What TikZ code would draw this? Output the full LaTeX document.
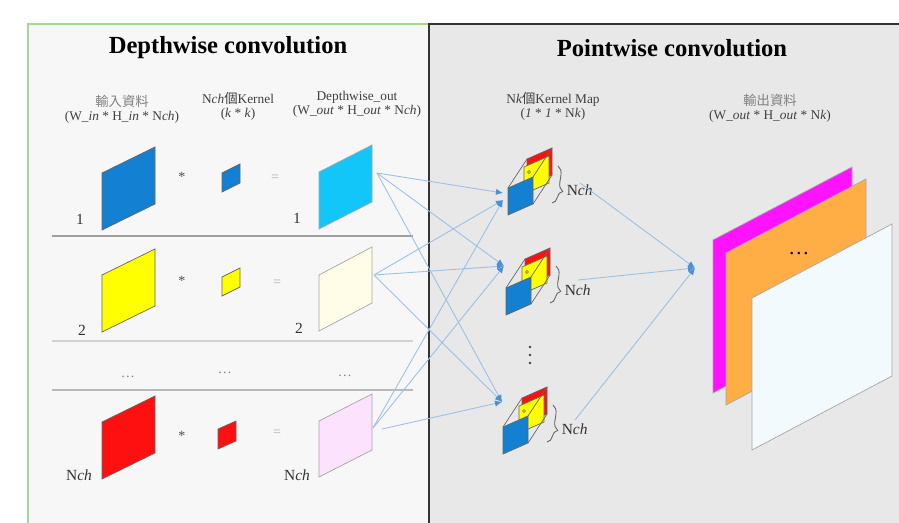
\documentclass[tikz,border=0pt]{standalone}
\usepackage{fontspec}
\setmainfont{Liberation Serif}
\newfontfamily\cjk{Noto Sans CJK TC}
\usetikzlibrary{arrows.meta}
\usetikzlibrary{decorations.pathreplacing}
\usetikzlibrary{positioning}

\definecolor{leftbg}{HTML}{F7F7F7}
\definecolor{rightbg}{HTML}{E8E8E8}
\definecolor{framegreen}{HTML}{A6D88E}
\definecolor{inblue}{HTML}{1380D2}
\definecolor{outcyan}{HTML}{12C6FA}
\definecolor{inyellow}{HTML}{FFFF00}
\definecolor{outyellow}{HTML}{FFFDE8}
\definecolor{inred}{HTML}{FF1010}
\definecolor{outpink}{HTML}{FCE2FC}
\definecolor{mapmagenta}{HTML}{FF12FF}
\definecolor{maporange}{HTML}{FFAD45}
\definecolor{mapwhite}{HTML}{F2FAFE}
\definecolor{linkblue}{HTML}{9CC0E6}
\definecolor{tipblue}{HTML}{4A90D6}

\tikzset{sheet/.style={draw=gray!80!black, line width=0.4pt},
  lightsheet/.style={draw=gray!70, line width=0.4pt},
  hdr/.style={align=center, font=\fontsize{7.6}{8}\selectfont, text=black!75, inner sep=0pt},
  ttl/.style={font=\fontsize{14}{16}\selectfont\bfseries},
  num/.style={font=\fontsize{8.8}{10}\selectfont, text=black!80, inner sep=0pt},
  op/.style={font=\fontsize{8}{9}\selectfont, text=gray, inner sep=0pt},
  link/.style={draw=linkblue, line width=0.5pt, -{Latex[length=4pt,width=3.6pt,color=tipblue]}},
  rowline/.style={line width=0.6pt}}

% parallelogram: style, bottom-left, width, height, rise
\newcommand{\drawsheet}[5]{\draw[#1] (#2) -- ++(0,-#4) -- ++(#3,-#5) -- ++(0,#4) -- cycle;}

% one 1x1 kernel map: name, corner of the front sheet
\newcommand{\kmap}[2]{%
  \begin{scope}[shift={(#2)}]
    \drawsheet{sheet,fill=inred}{19,-29}{25}{27}{11}
    \drawsheet{sheet,fill=inyellow}{16,-21}{25}{27}{11}
    \draw[gray!80!black, line width=0.4pt] (0,-27) -- (19,-56) (25,-38) -- (44,-67) (25,-11) -- (44,-40);
    \draw[gray!80!black, line width=0.3pt] (21,-43) circle (1.6);
    \drawsheet{sheet,fill=inblue}{0,0}{25}{27}{11}
    \draw[gray!80!black, line width=0.5pt, decorate, decoration={brace, amplitude=5pt, aspect=0.65}]
      (50,-49) -- (44,-12) coordinate[pos=0.65] (#1tip);
    \node[num, right=7pt of #1tip] (#1lbl) {N\textit{ch}};
  \end{scope}}

\begin{document}
\begin{tikzpicture}[x=0.02cm, y=-0.02cm]
  \useasboundingbox (0,0) rectangle (899,523);

  % panels
  \fill[leftbg] (28,24) rectangle (429,523);
  \draw[framegreen, line width=0.8pt] (28,523) -- (28,24) -- (429,24);
  \fill[rightbg] (429,24) rectangle (899,523);
  \draw[black!80, line width=1pt] (429,523) -- (429,24) -- (899,24);

  \node[ttl] (dwtitle) at (228,48) {Depthwise convolution};
  \node[ttl] (pwtitle) at (672,48) {Pointwise convolution};

  \node[hdr] (inhdr) at (122,109) {{\cjk\color{gray}輸入資料}\\(W\_\textit{in} * H\_\textit{in} * N\textit{ch})};
  \node[hdr] (khdr) at (238,106) {N\textit{ch}{\cjk 個}Kernel\\(\textit{k} * \textit{k})};
  \node[hdr] (dwhdr) at (357,104) {Depthwise\_out\\(W\_\textit{out} * H\_\textit{out} * N\textit{ch})};
  \node[hdr] (maphdr) at (553,106) {N\textit{k}{\cjk 個}Kernel Map\\(\textit{1} * \textit{1} * N\textit{k})};
  \node[hdr] (outhdr) at (770,108) {{\cjk\color{gray}輸出資料}\\(W\_\textit{out} * H\_\textit{out} * N\textit{k})};

  % row 1
  \drawsheet{sheet,fill=inblue}{102,230}{53}{57}{26}
  \node[op, text=black!70] (mul1) at (182,177) {*};
  \drawsheet{sheet,fill=inblue}{222,192}{18}{19}{9}
  \node[op, text=gray!60] (eq1) at (275,178) {=};
  \drawsheet{lightsheet,fill=outcyan}{319,229}{53}{57}{27}
  \node[num] (in1lbl) at (80,219) {1};
  \node[num] (out1lbl) at (297,218) {1};
  \draw[rowline, gray!75] (52,236) -- (413,236);

  % row 2
  \drawsheet{sheet,fill=inyellow}{102,332}{53}{57}{26}
  \node[op, text=black!70] (mul2) at (182,281) {*};
  \drawsheet{sheet,fill=inyellow}{222,296}{18}{19}{9}
  \node[op, text=gray!60] (eq2) at (277,283) {=};
  \drawsheet{lightsheet,fill=outyellow}{319,331}{53}{56}{28}
  \node[num] (in2lbl) at (82,330) {2};
  \node[num] (out2lbl) at (299,328) {2};
  \draw[rowline, gray!35] (52,341) -- (413,341);

  % skipped rows
  \node[op] (skip1) at (128,377) {\dots};
  \node[op] (skip2) at (225,373) {\dots};
  \node[op] (skip3) at (345,376) {\dots};
  \draw[rowline, gray!55] (52,390) -- (413,390);

  % row Nch
  \drawsheet{sheet,fill=inred}{102,479}{53}{57}{26}
  \node[op, text=black!70] (mul3) at (182,436) {*};
  \drawsheet{sheet,fill=inred}{218,449}{18}{20}{8}
  \node[op, text=gray!60] (eq3) at (277,433) {=};
  \drawsheet{lightsheet,fill=outpink}{319,477}{53}{56}{27}
  \node[num] (in3lbl) at (79,475) {N\textit{ch}};
  \node[num] (out3lbl) at (297,475) {N\textit{ch}};

  % kernel maps
  \kmap{ka}{508,215}
  \kmap{kb}{506,315}
  \kmap{kc}{503,454}
  \fill[black!75] (530,347) circle (1.4) (530,355) circle (1.4) (530,363) circle (1.4);

  % output maps
  \drawsheet{lightsheet,fill=mapmagenta}{713,393}{139}{153}{73}
  \drawsheet{lightsheet,fill=maporange}{726,405}{140}{152}{74}
  \node[font=\fontsize{12}{12}\selectfont] (odots) at (799,254) {\dots};
  \drawsheet{lightsheet,fill=mapwhite}{752,450}{140}{152}{74}

  % connectors
  \coordinate (src1) at (377,173);
  \coordinate (src2) at (374,275);
  \coordinate (src3) at (373,428);
  \coordinate (src3b) at (382,429);
  \coordinate (tgt1a) at (503,193);
  \coordinate (tgt1b) at (503,200);
  \coordinate (tgt2) at (504,266);
  \coordinate (tgt3) at (502,402);
  \coordinate (mapa) at (580,183);
  \coordinate (mapb) at (578,280);
  \coordinate (mapc) at (575,420);
  \coordinate (ydst) at (695,268);

  \draw[link] (src1) -- (tgt1a);
  \draw[link] (src1) -- (tgt2);
  \draw[link] (src1) -- (tgt3);
  \draw[link] (src2) -- (tgt1b);
  \draw[link] (src2) -- (tgt2);
  \draw[link] (src2) -- (tgt3);
  \draw[link] (src3) -- (tgt1b);
  \draw[link] (src3) -- (tgt2);
  \draw[link] (src3b) -- (tgt3);
  \draw[link] (mapa) -- (ydst);
  \draw[link] (mapb) -- (ydst);
  \draw[link] (mapc) -- (ydst);
\end{tikzpicture}
\end{document}
